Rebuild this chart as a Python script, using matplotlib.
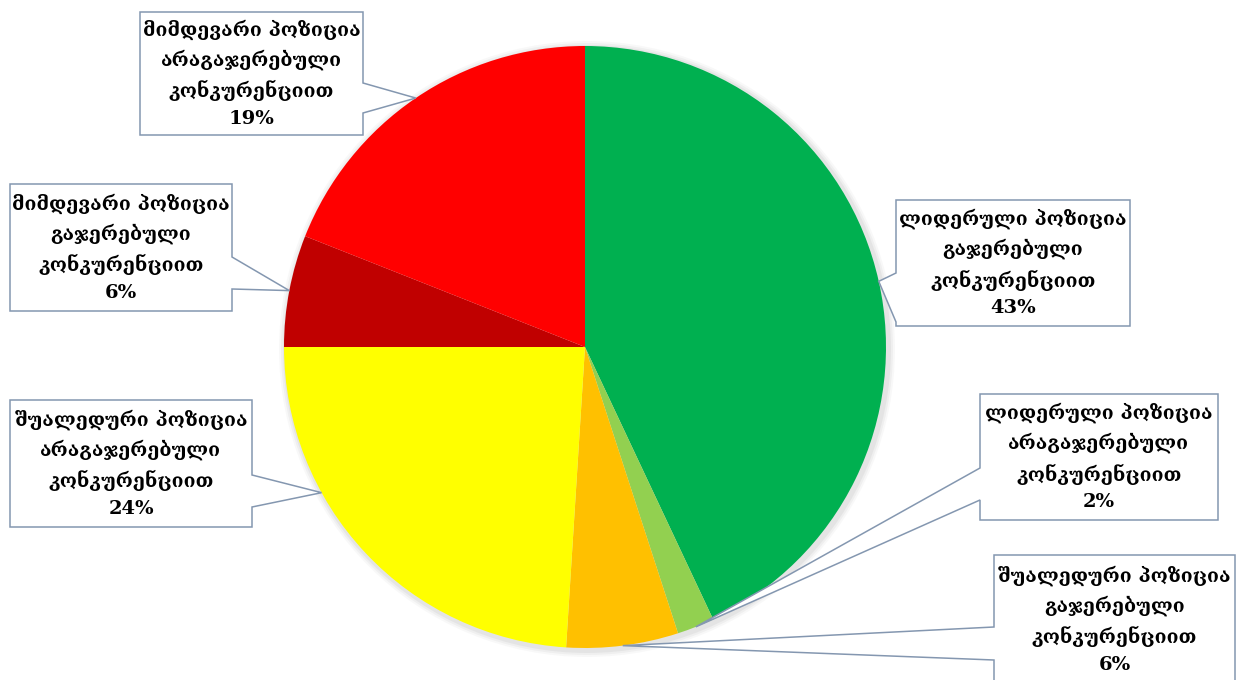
import numpy as np
import matplotlib
matplotlib.use('Agg')
import matplotlib.pyplot as plt
from matplotlib.patches import Polygon, Circle

# market position shares, clockwise from the top
labels = ['ლიდერული პოზიცია\nგაჯერებული\nკონკურენციით',
          'ლიდერული პოზიცია\nარაგაჯერებული\nკონკურენციით',
          'შუალედური პოზიცია\nგაჯერებული\nკონკურენციით',
          'შუალედური პოზიცია\nარაგაჯერებული\nკონკურენციით',
          'მიმდევარი პოზიცია\nგაჯერებული\nკონკურენციით',
          'მიმდევარი პოზიცია\nარაგაჯერებული\nკონკურენციით']
shares = [43, 2, 6, 24, 6, 19]
colors = ['#00B050', '#92D050', '#FFC000', '#FFFF00', '#C00000', '#FF0000']

W, H = 1240, 680
CX, CY, R = 585, 347, 301

# callout boxes in pixels (left, top, right, bottom), tail side/span, where the tip sits inside the wedge
boxes = [(896, 200, 1130, 326, 'left', 273, 322, 0.5),
         (980, 394, 1218, 520, 'left', 468, 500, 0.5),
         (994, 555, 1235, 690, 'left', 627, 660, 0.5),
         (10, 400, 252, 527, 'right', 475, 507, 0.335),
         (10, 184, 232, 311, 'right', 257, 289, 0.5),
         (140, 12, 363, 135, 'right', 83, 113, 0.5)]


def py(y):
    return H - y


fig = plt.figure(figsize=(W / 100, H / 100), dpi=100)
ax = fig.add_axes([0, 0, 1, 1])
ax.set_xlim(0, W)
ax.set_ylim(0, H)
ax.set_aspect('equal')
ax.axis('off')

# soft shadow round the pie
for k, a in zip([7, 5, 3], [0.05, 0.07, 0.09]):
    ax.add_patch(Circle((CX + 2, py(CY) - 2), R + k, color='#808080', alpha=a, lw=0, zorder=0))

wedges, _ = ax.pie(shares, colors=colors, startangle=90, counterclock=False,
                   center=(CX, py(CY)), radius=R, frame=True,
                   wedgeprops=dict(linewidth=0))
ax.set_xlim(0, W)
ax.set_ylim(0, H)
ax.axis('off')

edge = '#8497B0'
for w, lab, val, b in zip(wedges, labels, shares, boxes):
    x0, y0, x1, y1, side, t0, t1, frac = b
    ang = np.deg2rad(w.theta1 + frac * (w.theta2 - w.theta1))
    tip = (CX + R * np.cos(ang), py(CY) + R * np.sin(ang))
    if side == 'right':
        pts = [(x0, py(y0)), (x1, py(y0)), (x1, py(t0)), tip, (x1, py(t1)),
               (x1, py(y1)), (x0, py(y1))]
    else:
        pts = [(x0, py(y0)), (x1, py(y0)), (x1, py(y1)), (x0, py(y1)),
               (x0, py(t1)), tip, (x0, py(t0))]
    ax.add_patch(Polygon(pts, closed=True, facecolor='white', edgecolor=edge,
                         linewidth=1.1, zorder=5))
    yb = min(y1, 684)
    ax.text((x0 + x1) / 2, py((y0 + yb) / 2),
            lab + '\n' + str(val) + '%', ha='center', va='center',
            family=['DejaVu Serif', 'DejaVu Sans'], fontweight='bold',
            fontsize=14, linespacing=1.6, color='black', zorder=6)

plt.savefig('out.png', dpi=100)
